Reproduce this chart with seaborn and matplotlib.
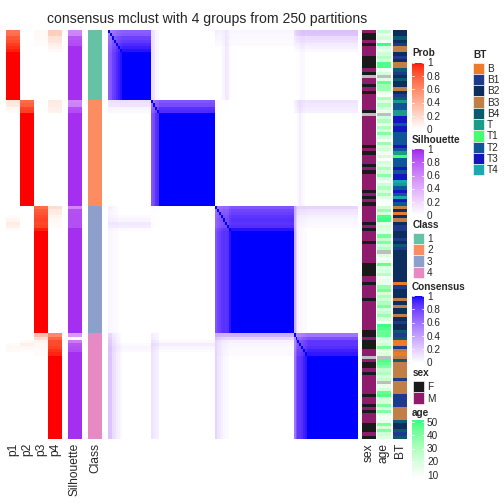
import numpy as np
import matplotlib
matplotlib.use("Agg")
import matplotlib.pyplot as plt
from matplotlib.colors import ListedColormap, to_rgb
from matplotlib.patches import Rectangle
import seaborn as sns

# ---------------- data ----------------
title = "consensus mclust with 4 groups from 250 partitions"
class_labels = ["1", "2", "3", "4"]
class_sizes = [22, 33, 40, 33]
class_colors = ["#66C2A5", "#FC8D62", "#8DA0CB", "#E78AC3"]

# membership probabilities (p1, p2, p3, p4) for rows that are not one-hot
prob_rows = {
    0: (0.70, 0, 0.04, 0.26), 1: (0.72, 0, 0.03, 0.25), 2: (0.82, 0, 0.03, 0.15),
    3: (0.85, 0, 0.02, 0.13), 4: (0.90, 0, 0.02, 0.08), 5: (0.94, 0, 0, 0.06),
    6: (0.97, 0, 0, 0.03),
    22: (0.14, 0.74, 0, 0.12), 23: (0.12, 0.78, 0, 0.10), 24: (0.04, 0.88, 0, 0.08),
    25: (0.03, 0.90, 0, 0.07),
    55: (0, 0, 0.74, 0.18), 56: (0, 0, 0.80, 0.12), 57: (0, 0, 0.83, 0.10),
    58: (0.02, 0, 0.86, 0.06), 59: (0.05, 0, 0.88, 0.04), 60: (0.10, 0, 0.87, 0.03),
    61: (0.08, 0, 0.89, 0.02), 62: (0.02, 0, 0.97, 0),
    95: (0, 0, 0.35, 0.60), 96: (0, 0, 0.18, 0.76), 97: (0, 0.03, 0.06, 0.86),
    98: (0.02, 0.08, 0.04, 0.86), 99: (0.04, 0.04, 0.03, 0.89), 100: (0.03, 0.02, 0.02, 0.93),
    101: (0, 0, 0.02, 0.96),
}
silhouette_default = 0.96
silhouette_rows = {
    0: 0.60, 1: 0.62, 2: 0.82, 3: 0.84, 4: 0.86,
    22: 0.60, 23: 0.62, 24: 0.84, 25: 0.86,
    55: 0.60, 56: 0.84, 57: 0.84, 58: 0.85, 59: 0.85, 60: 0.84, 61: 0.85,
    95: 0.50, 96: 0.03, 97: 0.65, 98: 0.82, 99: 0.84, 100: 0.86,
}

sex_string = ("MFFMFMMMFF" "FFMFNMMFMF" "MMMMMFNMMM" "MMMMMMFMFM" "MMFMFMMMMM"
              "FMFMFMMMMM" "FMFMMMFMMM" "MMMFFFFMMF" "MMMMFMMMMM" "MMMMFFMFFF"
              "MMNMFFMFMM" "MMMMFMMFMF" "MMMFFFMF")
sex_levels = ["F", "M"]
sex_colors = ["#1A1A1A", "#8E1B6B"]

age = [25, 15, 20, 12, 50, 20, 15, 22, 28, 20,
       48, 48, 12, 20, None, 18, 45, 35, 35, 15,
       10, 30, 18, 30, 20, 15, None, 20, 30, 15,
       30, 20, 40, 20, 12, 35, 18, 22, 12, 20,
       8, 20, 18, 30, 20, 38, 20, 12, 22, 30,
       20, 32, 18, 10, 8, 22, 35, 20, 48, 50,
       15, 20, 18, 15, 42, 25, 40, 22, 28, None,
       18, 10, 15, 45, 18, 18, 28, 12, 15, 15,
       35, 42, 20, 30, 22, 30, 40, 20, 25, 35,
       20, 10, 50, 48, 45, 45, 20, 18, 22, 42,
       15, 18, None, 48, 45, 40, 25, 30, 20, 25,
       None, 15, 20, 45, 48, 20, 20, 40, 20, 40,
       15, 12, 15, 40, 20, 40, 22, 18]
age_ticks = [50, 40, 30, 20, 10]

BT = ["B2", "B2", "B4", "B2", "B1", "B3", "B3", "B2", "B1", "B2",
      "B3", "B3", "B4", "B1", "B2", "B4", "B2", "B2", "B3", "B2",
      "B1", "B4", "T", "T2", "T2", "T", "T", "T3", "T3", "T2",
      "T3", "T3", "T2", "T2", "T2", "T2", "T3", "T2", "T", "T1",
      "T2", "T2", "T2", "T3", "T2", "T3", "T3", "T4", "T", "T2",
      "T3", "T2", "T4", "T3", "T2", "B3", "B2", "B", "B2", "B3",
      "B2", "B1", "B1", "B2", "B2", "B1", "B2", "B4", "B1", "B2",
      "B2", "B2", "B2", "B2", "B2", "B2", "B2", "B2", "B2", "B",
      "B1", "B2", "B2", "B2", "B3", "B2", "B3", "B2", "B2", "B3",
      "B2", "B1", "B2", "B2", "B4", "B1", "B4", "B", "B", "B1",
      "B3", "B", "B3", "B4", "B3", "B3", "B3", "B3", "B3", "B1",
      "B3", "B3", "B3", "B3", "B1", "B1", "B1", "B1", "B3", "B3",
      "B3", "B3", "B4", "B2", "B2", "B4", "B1", "B4"]
bt_levels = ["B", "B1", "B2", "B3", "B4", "T", "T1", "T2", "T3", "T4"]
bt_colors = ["#EE7A2C", "#1F3A8C", "#0B2E5E", "#C07F45", "#0C5A6E",
             "#1A9C86", "#45FF73", "#0F5598", "#1414C0", "#19A9AE"]

# ---------------- derived matrices ----------------
N = sum(class_sizes)
classes = np.repeat(np.arange(1, 5), class_sizes)
P = np.zeros((N, 4))
P[np.arange(N), classes - 1] = 1.0
for r, v in prob_rows.items():
    P[r] = v
sil = np.full(N, silhouette_default)
for r, v in silhouette_rows.items():
    sil[r] = v
C = np.clip(P @ P.T, 0, 1)
np.fill_diagonal(C, 1.0)
sex_code = np.array([sex_levels.index(s) if s in sex_levels else np.nan for s in sex_string], float)
age_arr = np.array([np.nan if a is None else a for a in age], float)
bt_code = np.array([bt_levels.index(b) for b in BT], float)

# ---------------- LAB colour ramps ----------------
_M = np.array([[0.4124564, 0.3575761, 0.1804375],
               [0.2126729, 0.7151522, 0.0721750],
               [0.0193339, 0.1191920, 0.9503041]])
_WP = np.array([0.95047, 1.0, 1.08883])


def srgb2lab(rgb):
    rgb = np.asarray(rgb, float)
    lin = np.where(rgb <= 0.04045, rgb / 12.92, ((rgb + 0.055) / 1.055) ** 2.4)
    xyz = lin @ _M.T / _WP
    d = 6 / 29
    f = np.where(xyz > d ** 3, np.cbrt(xyz), xyz / (3 * d * d) + 4 / 29)
    return np.stack([116 * f[..., 1] - 16, 500 * (f[..., 0] - f[..., 1]),
                     200 * (f[..., 1] - f[..., 2])], -1)


def lab2srgb(lab):
    fy = (lab[..., 0] + 16) / 116
    f = np.stack([fy + lab[..., 1] / 500, fy, fy - lab[..., 2] / 200], -1)
    d = 6 / 29
    xyz = np.where(f > d, f ** 3, 3 * d * d * (f - 4 / 29)) * _WP
    lin = np.clip(xyz @ np.linalg.inv(_M).T, 0, 1)
    rgb = np.where(lin <= 0.0031308, 12.92 * lin, 1.055 * lin ** (1 / 2.4) - 0.055)
    return np.clip(rgb, 0, 1)


def lab_cmap(c0, c1, n=256):
    l0, l1 = srgb2lab(to_rgb(c0)), srgb2lab(to_rgb(c1))
    t = np.linspace(0, 1, n)[:, None]
    return ListedColormap(lab2srgb(l0 + (l1 - l0) * t))


prob_cmap = lab_cmap("white", "#FF0000")
sil_cmap = lab_cmap("white", "#A020F0")
cons_cmap = lab_cmap("white", "#0000FF")
age_cmap = lab_cmap("white", "#3DFF85")
age_min, age_max = np.nanmin(age_arr), np.nanmax(age_arr)

# ---------------- figure ----------------
sns.set_theme(style="white")
plt.rcParams["font.family"] = ["Liberation Sans", "DejaVu Sans"]
W = H = 504
fig = plt.figure(figsize=(7, 7), dpi=72, facecolor="white")


def px_axes(x0, y0, w, h):
    return fig.add_axes([x0 / W, 1 - (y0 + h) / H, w / W, h / H])


def ftxt(x, y, s, **kw):
    fig.text(x / W, 1 - y / H, s, **kw)


TOP, HT = 30, 408.7
hm_kw = dict(cbar=False, xticklabels=False, yticklabels=False)

ax = px_axes(6, TOP, 56, HT)
sns.heatmap(P, ax=ax, cmap=prob_cmap, vmin=0, vmax=1, **hm_kw)
ax = px_axes(68, TOP, 14, HT)
sns.heatmap(sil[:, None], ax=ax, cmap=sil_cmap, vmin=0, vmax=1, **hm_kw)
ax = px_axes(88, TOP, 14, HT)
sns.heatmap(classes[:, None], ax=ax, cmap=ListedColormap(class_colors), vmin=0.5, vmax=4.5, **hm_kw)
ax = px_axes(108, TOP, 250, HT)
sns.heatmap(C, ax=ax, cmap=cons_cmap, vmin=0, vmax=1, **hm_kw)
ax = px_axes(362, TOP, 14, HT)
ax.set_facecolor("#BEBEBE")
sns.heatmap(sex_code[:, None], ax=ax, cmap=ListedColormap(sex_colors), vmin=-0.5, vmax=1.5, **hm_kw)
ax = px_axes(377, TOP, 14, HT)
ax.set_facecolor("#BEBEBE")
sns.heatmap(age_arr[:, None], ax=ax, cmap=age_cmap, vmin=age_min, vmax=age_max, **hm_kw)
ax = px_axes(393, TOP, 14, HT)
sns.heatmap(bt_code[:, None], ax=ax, cmap=ListedColormap(bt_colors), vmin=-0.5, vmax=9.5, **hm_kw)

# title and annotation names
ftxt(207, 22.7, title, fontsize=14, ha="center", va="baseline")
for x, lab in [(13, "p1"), (27, "p2"), (41, "p3"), (55, "p4"), (75, "Silhouette"),
               (95, "Class"), (369, "sex"), (384, "age"), (400, "BT")]:
    ftxt(x, 443, lab, fontsize=12, rotation=90, ha="center", va="top")


# ---------------- legends ----------------
def bar_legend(x, tb, ttl, y0, y1, cmap, bar_hi, bar_lo, cmin, cmax, ticks, labels):
    ftxt(x, tb, ttl, fontsize=10, fontweight="bold", ha="left", va="baseline")
    a = px_axes(x, y0, 12, y1 - y0)
    grad = np.linspace(bar_lo, bar_hi, 256).reshape(-1, 1)
    a.imshow(grad, aspect="auto", cmap=cmap, vmin=cmin, vmax=cmax, origin="lower",
             extent=[0, 1, bar_lo, bar_hi], interpolation="bilinear")
    for t in ticks:
        a.plot([0, 0.18], [t, t], color="white", lw=0.8)
        a.plot([0.82, 1], [t, t], color="white", lw=0.8)
    a.set_xlim(0, 1)
    a.set_ylim(bar_lo, bar_hi)
    a.axis("off")
    for t, lab in zip(ticks, labels):
        yy = y0 + (bar_hi - t) / (bar_hi - bar_lo) * (y1 - y0)
        ftxt(x + 15, yy + 3.6, lab, fontsize=10, ha="left", va="baseline")


def box_legend(x, tb, ttl, y0, labels, colors, bh=11.3):
    ftxt(x, tb, ttl, fontsize=10, fontweight="bold", ha="left", va="baseline")
    for i, (lab, col) in enumerate(zip(labels, colors)):
        yy = y0 + i * bh
        fig.add_artist(Rectangle((x / W, 1 - (yy + bh) / H), 11 / W, bh / H,
                                 transform=fig.transFigure, facecolor=col,
                                 edgecolor="white", lw=0.6))
        ftxt(x + 14, yy + bh / 2 + 3.6, lab, fontsize=10, ha="left", va="baseline")


unit_ticks = [1, 0.8, 0.6, 0.4, 0.2, 0]
unit_labels = ["1", "0.8", "0.6", "0.4", "0.2", "0"]
bar_legend(412, 56.5, "Prob", 62.5, 129.5, prob_cmap, 1, 0, 0, 1, unit_ticks, unit_labels)
bar_legend(412, 143.0, "Silhouette", 149, 215.5, sil_cmap, 1, 0, 0, 1, unit_ticks, unit_labels)
box_legend(413, 228.3, "Class", 232.7, class_labels, class_colors)
bar_legend(412, 290.5, "Consensus", 296, 362.7, cons_cmap, 1, 0, 0, 1, unit_ticks, unit_labels)
box_legend(413, 376, "sex", 381, sex_levels, sex_colors)
bar_legend(412, 416, "age", 420, 477, age_cmap, 51.5, 8.5, age_min, age_max,
           age_ticks, [str(t) for t in age_ticks])
box_legend(473, 57.5, "BT", 62.7, bt_levels, bt_colors, bh=11.26)

fig.savefig("out.png", dpi=72, facecolor="white")
